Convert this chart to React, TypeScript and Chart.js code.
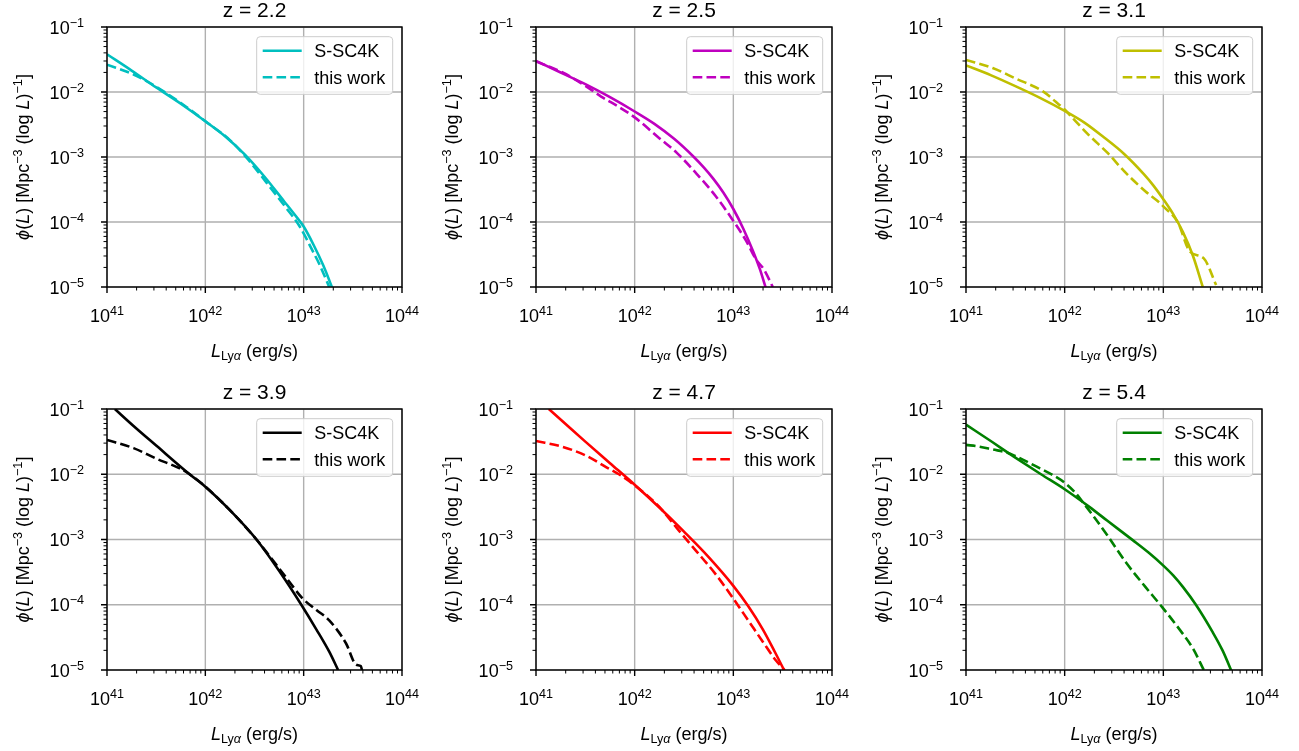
import { useEffect, useRef } from "react";
import { Chart, registerables } from "chart.js";

Chart.register(...registerables);

// ---------------- data (log10 values) ----------------
const panelTitles = ["z = 2.2", "z = 2.5", "z = 3.1", "z = 3.9", "z = 4.7", "z = 5.4"];
const panelColors = ["#00bfbf", "#bf00bf", "#bfbf00", "#000000", "#ff0000", "#008000"];
const seriesLabels = ["S-SC4K", "this work"];
const xTickExponents = [41, 42, 43, 44];
const yTickExponents = [-1, -2, -3, -4, -5];
const xTickLabels = ["41", "42", "43", "44"];
const yTickLabels = ["\u22121", "\u22122", "\u22123", "\u22124", "\u22125"];

// z = 2.2
const z22SscLogL = [41.0, 41.25, 41.5, 41.75, 42.0, 42.2, 42.4, 42.6, 42.8, 42.9, 43.0, 43.1, 43.2, 43.3];
const z22SscLogPhi = [-1.42, -1.67, -1.93, -2.18, -2.45, -2.68, -2.96, -3.3, -3.68, -3.87, -4.07, -4.35, -4.67, -5.05];
const z22WorkLogL = [41.0, 41.27, 41.5, 41.78, 42.0, 42.25, 42.43, 42.62, 42.82, 42.96, 43.1, 43.16, 43.26];
const z22WorkLogPhi = [-1.58, -1.73, -1.92, -2.2, -2.45, -2.74, -3.03, -3.39, -3.78, -4.07, -4.47, -4.65, -5.0];

// z = 2.5
const z25SscLogL = [41.0, 41.25, 41.5, 41.75, 42.0, 42.2, 42.4, 42.6, 42.7, 42.8, 42.9, 43.0, 43.1, 43.2, 43.27, 43.33];
const z25SscLogPhi = [-1.52, -1.7, -1.88, -2.08, -2.3, -2.49, -2.72, -3.0, -3.16, -3.34, -3.55, -3.8, -4.1, -4.45, -4.73, -5.02];
const z25WorkLogL = [41.0, 41.27, 41.5, 41.66, 41.84, 42.0, 42.25, 42.43, 42.62, 42.82, 42.99, 43.13, 43.23, 43.31, 43.4];
const z25WorkLogPhi = [-1.53, -1.7, -1.905, -2.07, -2.23, -2.39, -2.71, -2.94, -3.245, -3.6, -3.96, -4.29, -4.575, -4.73, -5.0];

// z = 3.1
const z31SscLogL = [41.0, 41.25, 41.5, 41.75, 42.0, 42.2, 42.4, 42.6, 42.8, 42.9, 43.0, 43.1, 43.2, 43.3, 43.4];
const z31SscLogPhi = [-1.59, -1.74, -1.91, -2.09, -2.29, -2.47, -2.7, -2.95, -3.26, -3.44, -3.65, -3.88, -4.16, -4.52, -5.0];
const z31WorkLogL = [41.0, 41.27, 41.5, 41.78, 41.91, 42.0, 42.08, 42.25, 42.43, 42.62, 42.82, 42.96, 43.0, 43.145, 43.27, 43.41, 43.535];
const z31WorkLogPhi = [-1.506, -1.63, -1.79, -1.99, -2.15, -2.27, -2.4, -2.67, -2.93, -3.245, -3.53, -3.7, -3.76, -4.0, -4.457, -4.56, -4.97];

// z = 3.9
const z39SscLogL = [41.08, 41.27, 41.5, 41.84, 42.0, 42.25, 42.52, 42.75, 42.976, 43.13, 43.26, 43.35];
const z39SscLogPhi = [-1.0, -1.26, -1.56, -2.0, -2.19, -2.55, -3.0, -3.48, -4.0, -4.38, -4.72, -5.0];
const z39WorkLogL = [41.0, 41.27, 41.5, 41.74, 41.84, 42.0, 42.25, 42.52, 42.62, 42.82, 42.99, 43.13, 43.26, 43.43, 43.535, 43.58, 43.6];
const z39WorkLogPhi = [-1.475, -1.6, -1.76, -1.91, -2.0, -2.19, -2.55, -3.0, -3.19, -3.58, -3.905, -4.08, -4.24, -4.59, -4.92, -4.94, -5.05];

// z = 4.7
const z47SscLogL = [41.13, 41.3, 41.5, 41.75, 42.0, 42.25, 42.5, 42.75, 43.0, 43.15, 43.3, 43.42, 43.53];
const z47SscLogPhi = [-1.0, -1.23, -1.5, -1.83, -2.16, -2.51, -2.88, -3.27, -3.71, -4.02, -4.38, -4.72, -5.05];
const z47WorkLogL = [41.0, 41.27, 41.5, 41.71, 41.84, 42.0, 42.25, 42.43, 42.62, 42.82, 42.99, 43.16, 43.3, 43.43, 43.52];
const z47WorkLogPhi = [-1.49, -1.58, -1.71, -1.89, -2.0, -2.17, -2.5, -2.83, -3.17, -3.53, -3.885, -4.26, -4.57, -4.85, -5.0];

// z = 5.4
const z54SscLogL = [41.0, 41.27, 41.42, 41.5, 41.76, 42.0, 42.25, 42.43, 42.69, 42.85, 43.0, 43.1, 43.2, 43.33, 43.5, 43.6, 43.7];
const z54SscLogPhi = [-1.24, -1.51, -1.665, -1.745, -2.0, -2.23, -2.5, -2.71, -3.01, -3.2, -3.4, -3.55, -3.73, -4.0, -4.42, -4.7, -5.05];
const z54WorkLogL = [41.0, 41.13, 41.27, 41.42, 41.5, 41.75, 41.9, 42.0, 42.1, 42.2, 42.3, 42.43, 42.62, 42.82, 42.99, 43.16, 43.3, 43.41];
const z54WorkLogPhi = [-1.55, -1.575, -1.62, -1.67, -1.72, -1.91, -2.03, -2.13, -2.27, -2.46, -2.66, -2.93, -3.35, -3.73, -4.04, -4.37, -4.67, -5.0];

const sscLogL = [z22SscLogL, z25SscLogL, z31SscLogL, z39SscLogL, z47SscLogL, z54SscLogL];
const sscLogPhi = [z22SscLogPhi, z25SscLogPhi, z31SscLogPhi, z39SscLogPhi, z47SscLogPhi, z54SscLogPhi];
const workLogL = [z22WorkLogL, z25WorkLogL, z31WorkLogL, z39WorkLogL, z47WorkLogL, z54WorkLogL];
const workLogPhi = [z22WorkLogPhi, z25WorkLogPhi, z31WorkLogPhi, z39WorkLogPhi, z47WorkLogPhi, z54WorkLogPhi];

// ---------------- layout (style only) ----------------
const COLS = [
  { left: 0, width: 433, plotLeft: 107, plotRight: 402 },
  { left: 433, width: 433, plotLeft: 536, plotRight: 832 },
  { left: 866, width: 433, plotLeft: 966, plotRight: 1262 },
];
const ROWS = [
  { top: 0, height: 375, plotTop: 27, plotBottom: 287 },
  { top: 375, height: 376, plotTop: 409, plotBottom: 670 },
];

const FONT = '"Liberation Sans", Arial, Helvetica, sans-serif';
const BASE = 18;

type Seg = { t: string; it?: boolean; sc?: "sup" | "sub" };

function drawRich(ctx: CanvasRenderingContext2D, segs: Seg[], x: number, y: number, size: number, align: "left" | "center" | "right") {
  const parts = segs.map((s) => {
    const fs = s.sc ? size * 0.7 : size;
    const font = `${s.it ? "italic " : ""}${fs}px ${FONT}`;
    ctx.font = font;
    return { s, font, w: ctx.measureText(s.t).width };
  });
  const total = parts.reduce((a, p) => a + p.w, 0);
  let cx = align === "center" ? x - total / 2 : align === "right" ? x - total : x;
  ctx.textAlign = "left";
  ctx.textBaseline = "alphabetic";
  for (const p of parts) {
    ctx.font = p.font;
    const dy = p.s.sc === "sup" ? -size * 0.38 : p.s.sc === "sub" ? size * 0.22 : 0;
    ctx.fillText(p.s.t, cx, y + dy);
    cx += p.w;
  }
}

function makeDecor(title: string, color: string) {
  return {
    id: "decor",
    beforeDatasetsDraw(chart: any) {
      const { ctx, chartArea: a, scales } = chart;
      ctx.save();
      ctx.strokeStyle = "#b0b0b0";
      ctx.lineWidth = 1.4;
      ctx.beginPath();
      for (const e of xTickExponents) {
        const px = scales.x.getPixelForValue(Math.pow(10, e));
        ctx.moveTo(px, a.top);
        ctx.lineTo(px, a.bottom);
      }
      for (const e of yTickExponents) {
        const py = scales.y.getPixelForValue(Math.pow(10, e));
        ctx.moveTo(a.left, py);
        ctx.lineTo(a.right, py);
      }
      ctx.stroke();
      ctx.restore();
    },
    afterDatasetsDraw(chart: any) {
      const { ctx, chartArea: a, scales } = chart;
      const xs = scales.x;
      const ys = scales.y;
      ctx.save();
      // frame
      ctx.strokeStyle = "#000";
      ctx.lineWidth = 1.4;
      ctx.strokeRect(a.left, a.top, a.right - a.left, a.bottom - a.top);
      // ticks
      ctx.beginPath();
      for (const e of xTickExponents) {
        const px = xs.getPixelForValue(Math.pow(10, e));
        ctx.moveTo(px, a.bottom);
        ctx.lineTo(px, a.bottom + 6);
      }
      for (const e of yTickExponents) {
        const py = ys.getPixelForValue(Math.pow(10, e));
        ctx.moveTo(a.left, py);
        ctx.lineTo(a.left - 6, py);
      }
      ctx.stroke();
      ctx.lineWidth = 1;
      ctx.beginPath();
      for (const e of xTickExponents.slice(0, -1)) {
        for (let m = 2; m <= 9; m++) {
          const px = xs.getPixelForValue(m * Math.pow(10, e));
          ctx.moveTo(px, a.bottom);
          ctx.lineTo(px, a.bottom + 3.5);
        }
      }
      for (const e of yTickExponents.slice(1)) {
        for (let m = 2; m <= 9; m++) {
          const py = ys.getPixelForValue(m * Math.pow(10, e));
          ctx.moveTo(a.left, py);
          ctx.lineTo(a.left - 3.5, py);
        }
      }
      ctx.stroke();
      // tick labels
      ctx.fillStyle = "#000";
      xTickExponents.forEach((e, i) => {
        const px = xs.getPixelForValue(Math.pow(10, e));
        drawRich(ctx, [{ t: "10" }, { t: xTickLabels[i], sc: "sup" }], px, a.bottom + 35, BASE, "center");
      });
      yTickExponents.forEach((e, i) => {
        const py = ys.getPixelForValue(Math.pow(10, e));
        drawRich(ctx, [{ t: "10" }, { t: yTickLabels[i], sc: "sup" }], a.left - 23, py + 6.5, BASE, "right");
      });
      // title
      ctx.font = `21px ${FONT}`;
      ctx.textAlign = "center";
      ctx.textBaseline = "alphabetic";
      ctx.fillText(title, (a.left + a.right) / 2, a.top - 10.5);
      // x axis title
      drawRich(
        ctx,
        [{ t: "L", it: true }, { t: "Ly", sc: "sub" }, { t: "\u03b1", sc: "sub", it: true }, { t: " (erg/s)" }],
        (a.left + a.right) / 2,
        a.bottom + 69.5,
        BASE,
        "center"
      );
      // y axis title
      ctx.save();
      ctx.translate(a.left - 78, (a.top + a.bottom) / 2);
      ctx.rotate(-Math.PI / 2);
      drawRich(
        ctx,
        [
          { t: "\u03d5", it: true },
          { t: "(" },
          { t: "L", it: true },
          { t: ") [Mpc" },
          { t: "\u22123", sc: "sup" },
          { t: " (log " },
          { t: "L", it: true },
          { t: ")" },
          { t: "\u22121", sc: "sup" },
          { t: "]" },
        ],
        0,
        0,
        BASE,
        "center"
      );
      ctx.restore();
      // legend
      const bx = a.right - 145.3;
      const by = a.top + 9.7;
      const bw = 136;
      const bh = 57.6;
      const r = 3.5;
      ctx.beginPath();
      ctx.moveTo(bx + r, by);
      ctx.lineTo(bx + bw - r, by);
      ctx.arcTo(bx + bw, by, bx + bw, by + r, r);
      ctx.lineTo(bx + bw, by + bh - r);
      ctx.arcTo(bx + bw, by + bh, bx + bw - r, by + bh, r);
      ctx.lineTo(bx + r, by + bh);
      ctx.arcTo(bx, by + bh, bx, by + bh - r, r);
      ctx.lineTo(bx, by + r);
      ctx.arcTo(bx, by, bx + r, by, r);
      ctx.closePath();
      ctx.fillStyle = "rgba(255,255,255,0.8)";
      ctx.fill();
      ctx.strokeStyle = "#cccccc";
      ctx.lineWidth = 1;
      ctx.stroke();
      const rowsY = [a.top + 23.7, a.top + 50.3];
      seriesLabels.forEach((lab, i) => {
        ctx.strokeStyle = color;
        ctx.lineWidth = 2.6;
        ctx.setLineDash(i === 0 ? [] : [9.6, 4.2]);
        ctx.beginPath();
        ctx.moveTo(a.right - 139.3, rowsY[i]);
        ctx.lineTo(a.right - 100.3, rowsY[i]);
        ctx.stroke();
        ctx.setLineDash([]);
        ctx.fillStyle = "#000";
        ctx.font = `${BASE}px ${FONT}`;
        ctx.textAlign = "left";
        ctx.fillText(lab, a.right - 87.7, rowsY[i] + 6.5);
      });
      ctx.restore();
    },
  };
}

function Panel({ idx }: { idx: number }) {
  const ref = useRef<HTMLCanvasElement | null>(null);
  const col = COLS[idx % 3];
  const row = ROWS[Math.floor(idx / 3)];
  useEffect(() => {
    if (!ref.current) return;
    const color = panelColors[idx];
    const toPts = (L: number[], P: number[]) => L.map((l, i) => ({ x: Math.pow(10, l), y: Math.pow(10, P[i]) }));
    const chart = new Chart(ref.current, {
      type: "line",
      data: {
        datasets: [
          {
            label: seriesLabels[0],
            data: toPts(sscLogL[idx], sscLogPhi[idx]),
            borderColor: color,
            borderWidth: 2.6,
            pointRadius: 0,
            fill: false,
            cubicInterpolationMode: "monotone",
            borderJoinStyle: "round",
            clip: 0,
          } as any,
          {
            label: seriesLabels[1],
            data: toPts(workLogL[idx], workLogPhi[idx]),
            borderColor: color,
            borderWidth: 2.6,
            borderDash: [9.6, 4.2],
            pointRadius: 0,
            fill: false,
            cubicInterpolationMode: "monotone",
            borderJoinStyle: "round",
            clip: 0,
          } as any,
        ],
      },
      options: {
        animation: false,
        responsive: false,
        maintainAspectRatio: false,
        events: [],
        layout: {
          padding: {
            left: col.plotLeft - col.left,
            right: col.left + col.width - col.plotRight,
            top: row.plotTop - row.top,
            bottom: row.top + row.height - row.plotBottom,
          },
        },
        scales: {
          x: { type: "logarithmic", min: 1e41, max: 1e44, display: false },
          y: { type: "logarithmic", min: 1e-5, max: 1e-1, display: false },
        },
        plugins: {
          legend: { display: false },
          title: { display: false },
          tooltip: { enabled: false },
        },
      },
      plugins: [makeDecor(panelTitles[idx], color)],
    } as any);
    return () => chart.destroy();
  }, [idx]);
  return (
    <canvas
      ref={ref}
      width={col.width}
      height={row.height}
      style={{ position: "absolute", left: col.left, top: row.top, width: col.width, height: row.height }}
    />
  );
}

export default function App() {
  return (
    <div style={{ position: "absolute", left: 0, top: 0, width: 1299, height: 751, background: "#fff" }}>
      {[0, 1, 2, 3, 4, 5].map((i) => (
        <Panel key={i} idx={i} />
      ))}
    </div>
  );
}
